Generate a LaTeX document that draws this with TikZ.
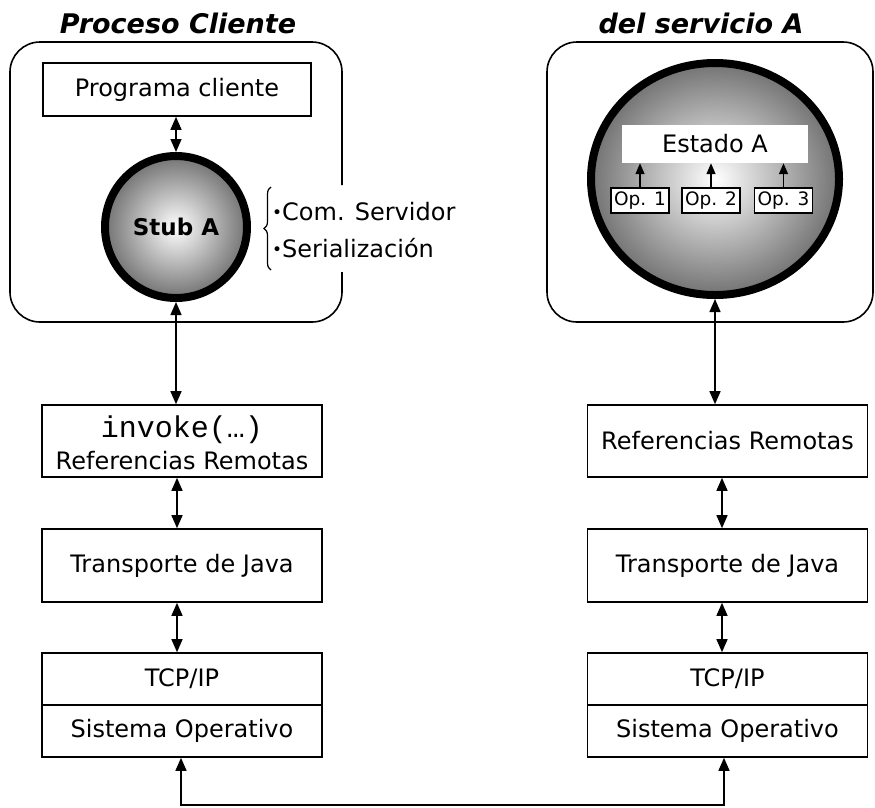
\documentclass[tikz,border=0pt]{standalone}
\usepackage{fontspec}
\setmainfont{DejaVu Sans}
\setmonofont{Liberation Mono}
\usetikzlibrary{arrows.meta,shapes.geometric,decorations.pathreplacing}
\newcommand\smallbul{{\fontsize{17}{17}\selectfont\raisebox{2pt}{•}}}
\begin{document}
\begin{tikzpicture}[x=1pt,y=-1pt,
  lay/.style={draw, line width=1.6pt, minimum width=280pt, inner sep=0pt, font=\fontsize{24}{28}\selectfont},
  txt/.style={inner sep=0pt, font=\fontsize{24}{28}\selectfont},
  biarrow/.style={line width=1.4pt, {Triangle[length=13pt,width=11pt]}-{Triangle[length=13pt,width=11pt]}},
  uparrow/.style={line width=1.4pt, -{Triangle[length=11pt,width=9pt]}},
  proc/.style={line width=1.6pt, rounded corners=30pt},
  ball/.style={draw, line width=8pt, inner color=white, outer color=black!55},
  opbox/.style={draw, fill=white, line width=1.2pt, inner sep=0pt, minimum width=58pt, minimum height=25pt, font=\fontsize{18.5}{18.5}\selectfont},
  ttl/.style={font=\fontsize{27}{27}\selectfont\bfseries\itshape, anchor=base, inner sep=0pt}
]
\useasboundingbox (0,0) rectangle (875,807);

% titles
\node[ttl] (t1) at (178,33) {Proceso Cliente};
\node[ttl] (t2) at (701,33) {del servicio A};

% process frames
\draw[proc] (342,272) -- (342,322) -- (10,322) -- (10,42) -- (342,42) -- (342,185);
\draw[proc] (547,42) rectangle (873,322);

% client side
\node[lay, minimum width=268pt, minimum height=53pt] (prog) at (177,89.5) {Programa cliente};
\node[ball, circle, minimum size=142pt, inner sep=0pt, font=\fontsize{23}{23}\selectfont\bfseries] (stub) at (176,227) {Stub A};
\draw[biarrow] (prog.south -| stub.north) -- (stub.north);

\draw[line width=1.2pt, decorate, decoration={brace, amplitude=7pt}] (271,270) -- (271,187);
\node[txt, anchor=base west] (c1) at (272,220) {\smallbul Com. Servidor};
\node[txt, anchor=base west] (c2) at (272,257) {\smallbul Serialización};

% server side
\node[ball, ellipse, minimum width=248pt, minimum height=232pt, inner sep=0pt] (srv) at (715,179) {};
\node[fill=white, minimum width=186pt, minimum height=38pt, inner sep=0pt, font=\fontsize{24}{24}\selectfont] (est) at (715,144) {Estado A};
\node[opbox] (o1) at (640,200.5) {Op. 1};
\node[opbox] (o2) at (711,200.5) {Op. 2};
\node[opbox] (o3) at (783.5,200.5) {Op. 3};
\foreach \o in {o1,o2,o3}
  \draw[uparrow] (\o.north) -- (\o.north |- est.south);

% left stack
\node[lay, minimum height=72pt] (linv) at (182,441) {};
\node[inner sep=0pt, anchor=base, font=\fontsize{30}{30}\selectfont\ttfamily] (linvt) at (182,437) {invoke(…)};
\node[txt, anchor=base] (linvr) at (182,469) {Referencias Remotas};
\node[lay, minimum height=73pt] (ltj) at (182,565.5) {Transporte de Java};
\node[lay, minimum height=52pt] (ltcp) at (182,679) {TCP/IP};
\node[lay, minimum height=52pt] (lso) at (182,731) {Sistema Operativo};

% right stack
\node[lay, minimum height=72pt] (rref) at (727.5,441) {Referencias Remotas};
\node[lay, minimum height=73pt] (rtj) at (727.5,565.5) {Transporte de Java};
\node[lay, minimum height=52pt] (rtcp) at (727.5,679) {TCP/IP};
\node[lay, minimum height=52pt] (rso) at (727.5,731) {Sistema Operativo};

% connectors
\coordinate (lx) at (177,0);
\coordinate (rx) at (722,0);
\draw[biarrow] (stub.south) -- (stub.south |- linv.north);
\draw[biarrow] (lx |- linv.south) -- (lx |- ltj.north);
\draw[biarrow] (lx |- ltj.south) -- (lx |- ltcp.north);
\draw[biarrow] (srv.south) -- (srv.south |- rref.north);
\draw[biarrow] (rx |- rref.south) -- (rx |- rtj.north);
\draw[biarrow] (rx |- rtj.south) -- (rx |- rtcp.north);

\coordinate (lb) at (181,805);
\coordinate (rb) at (724,805);
\draw[biarrow] (lb |- lso.south) -- (lb) -- (rb) -- (rb |- rso.south);
\end{tikzpicture}
\end{document}
